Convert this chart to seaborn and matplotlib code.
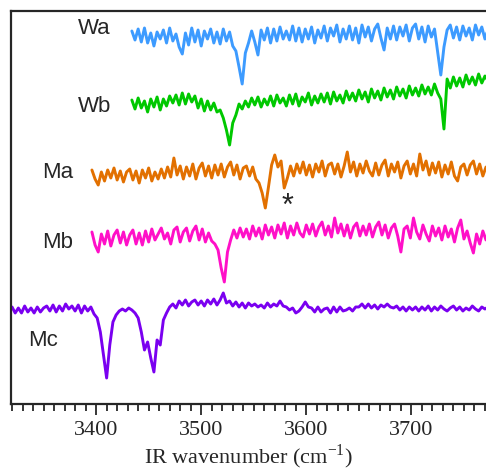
import numpy as np
import pandas as pd
import matplotlib
matplotlib.use("Agg")
import matplotlib.pyplot as plt
from matplotlib.ticker import MultipleLocator
import seaborn as sns

# trace names and colours
names = ["Wa", "Wb", "Ma", "Mb", "Mc"]
colors = ["#3d9bff", "#00c800", "#e27000", "#ff10c8", "#7a00f0"]

# vertical offsets of each trace (arb. units)
offsets = [367, 299, 229, 166, 94]

# wavenumber grids: start, stop, step (cm-1)
grid_wa = (3434, 3774, 3)
grid_wb = (3434, 3774, 3)
grid_ma = (3396, 3772, 3)
grid_mb = (3396, 3772, 3)
grid_mc = (3320, 3774, 3)

# signal (arb. units, up = positive)
wa = [6, -3, 8, -5, 9, -6, 4, -9, 5, -2,
      7, -6, 9, -4, 3, -10, -17, 4, -8, 9,
      -5, 7, -9, 6, -2, 8, -6, 5, -7, 8,
      -4, 5, -9, -14, -30, -47, -16, -6, 6, -5,
      -18, 7, -3, 9, -6, 8, -4, 10, -2, 6,
      -3, 11, -4, 9, -5, 8, -2, 10, -6, 7,
      -1, 11, -4, 9, 1, 12, -5, 8, -2, 11,
      -3, 9, -6, 12, 0, 10, -4, 8, 13, -1,
      -13, 9, -2, 11, -3, 10, 1, 12, -4, 9,
      13, -2, 10, -5, 11, 0, 8, -15, -38, -10,
      7, 12, -1, 10, -3, 11, 1, 9, -3, 12,
      2, 10, -2, 8]
wb = [5, -4, 7, -3, 4, -7, 6, -2, 8, -5,
      6, -1, 9, 2, 10, 0, 12, 1, 11, 3,
      9, -3, 6, -6, 4, -5, 2, -7, -5, -13,
      -25, -40, -18, -10, 1, -4, 4, -2, 7, 0,
      8, -2, 6, 0, 9, -1, 10, 2, 7, -1,
      10, 1, 11, -1, 8, 3, 12, 0, 9, 2,
      11, 3, 12, 1, 13, 4, 10, 2, 14, 5,
      12, 4, 15, 6, 13, 3, 16, 7, 14, 5,
      17, 8, 15, 6, 18, 9, 16, 7, 19, 10,
      17, 9, 20, 11, 18, 10, 21, 12, 6, -24,
      26, 17, 28, 19, 27, 18, 30, 21, 28, 20,
      31, 22, 29, 24]
ma = [5, -4, -10, 3, -6, 5, -3, 7, -5, 4,
      -7, 3, 6, -5, 4, -8, 5, -3, 7, -6,
      3, -4, 6, -3, 8, -2, 17, 0, 9, -4,
      8, -1, 11, -4, 7, 12, -1, 9, -3, 10,
      0, 11, -2, 8, 13, 0, 10, -4, 7, 9,
      -1, 8, -4, -8, -18, -33, -12, 10, 20, 8,
      14, -13, -3, 9, -1, 11, 2, 13, 0, 10,
      -2, 11, 3, 14, -1, 10, 12, 1, 11, -2,
      9, 23, 3, 13, -1, 11, 2, 14, 4, -1,
      12, 0, 10, 15, -1, 11, 3, 13, -3, 9,
      14, 1, 11, -1, 21, 5, 14, 0, 12, 2,
      13, -2, 10, 1, 13, -1, -6, 8, 11, 0,
      10, 14, 1, 11, -1, 8]
mb = [6, -7, -14, 4, -6, 7, -8, 3, 8, -5,
      6, -7, 3, 8, -6, 5, -7, 7, -4, 9,
      -2, 4, 10, -1, 5, -6, 8, 11, -4, 6,
      10, -3, 7, 12, -2, 9, -4, 5, -3, -6,
      -12, -30, -44, -14, -2, 8, 0, 10, 1, 9,
      -1, 12, 2, 10, -1, 13, 3, 11, 0, 13,
      4, 15, 0, 12, 3, 15, 5, 1, 13, 4,
      14, 2, 11, 16, 3, 12, 1, 20, 5, 14,
      2, 13, 0, 11, 15, 2, 12, 3, 14, 1,
      11, 16, 3, 13, 0, 10, 14, 2, -14, 9,
      12, 0, 20, 6, -1, 13, 4, -3, 12, 2,
      10, -2, 12, 1, 9, -4, 10, 18, -1, 7,
      -5, -15, 4, -6, 7, -2]
mc = [3, -3, 2, -3, 4, -2, 2, -3, 3, -2,
      2, 4, -1, 5, -2, 4, -1, 6, 1, 4,
      -1, 5, -3, 4, -1, 3, -4, -8, -22, -45,
      -68, -35, -12, -5, -1, 1, -1, 2, 0, -3,
      -8, -22, -40, -32, -48, -62, -30, -35, -10, -3,
      3, 6, 2, 9, 5, 10, 4, 8, 10, 5,
      9, 4, 10, 6, 11, 5, 10, 17, 7, 9,
      4, 8, 3, 7, 2, 7, 4, 6, 3, 5,
      2, 7, 3, 6, 4, 9, 4, 3, 0, 2,
      -3, -1, 3, 8, 3, 2, -2, 3, -2, 1,
      2, -3, 3, -2, 3, -1, 0, 2, -1, 3,
      3, 6, 2, 6, 2, 5, 1, 5, 3, 6,
      3, 2, 4, 0, 3, -1, 3, 0, 3, -1,
      3, 0, 4, -1, 3, 0, 4, 1, -1, 2,
      4, 0, 3, -1, 2, 0, 4, 1, -1, 3,
      1, 3]

# label positions (wavenumber, height)
label_x = [3383, 3383, 3349, 3349, 3335]
label_y = [375, 298, 231, 161, 64]
star_pos = (3582, 197)

signals = [wa, wb, ma, mb, mc]
grids = [grid_wa, grid_wb, grid_ma, grid_mb, grid_mc]

frames = []
for name, sig, g, off in zip(names, signals, grids, offsets):
    wn = np.arange(*g)[:len(sig)]
    frames.append(pd.DataFrame({"wavenumber": wn,
                                "signal": np.array(sig) + off,
                                "sample": name}))
df = pd.concat(frames, ignore_index=True)

sns.set_style("ticks")
plt.rcParams["font.family"] = ["Liberation Serif", "DejaVu Serif"]
plt.rcParams["mathtext.fontset"] = "custom"
plt.rcParams["mathtext.rm"] = "Liberation Serif"

fig = plt.figure(figsize=(4.86, 4.70), dpi=100)
ax = fig.add_axes([11 / 486, 66 / 470, 475 / 486, 393 / 470])

sns.lineplot(data=df, x="wavenumber", y="signal", hue="sample",
             palette=dict(zip(names, colors)), estimator=None, sort=False,
             linewidth=2.1, legend=False, ax=ax)

for name, lx, ly in zip(names, label_x, label_y):
    ax.text(lx, ly, name, ha="left", va="center", fontsize=16,
            family=["Liberation Sans", "DejaVu Sans"])
ax.text(star_pos[0], star_pos[1], "*", ha="center", va="center",
        fontsize=22, family=["Liberation Sans", "DejaVu Sans"])

ax.set_xlim(3319, 3771)
ax.set_ylim(0, 393)
ax.set_yticks([])
ax.set_ylabel("")
ax.xaxis.set_major_locator(MultipleLocator(100))
ax.xaxis.set_minor_locator(MultipleLocator(10))
ax.tick_params(axis="x", which="major", direction="out", length=8,
               width=1.3, labelsize=16, pad=4)
ax.tick_params(axis="x", which="minor", direction="out", length=5,
               width=1.3)
ax.set_xlabel(r"IR wavenumber (cm$^{\mathregular{-1}}$)", fontsize=16,
              labelpad=2)

for side in ["left", "top", "bottom"]:
    ax.spines[side].set_linewidth(1.6)
ax.spines["right"].set_visible(False)

fig.savefig("out.png", dpi=100)
